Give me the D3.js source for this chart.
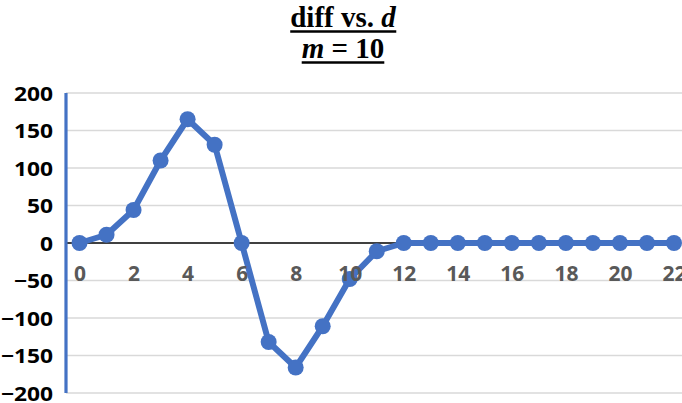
<!DOCTYPE html>
<html>
<head>
<meta charset="utf-8">
<script src="https://cdn.jsdelivr.net/npm/d3@7"></script>
<style>
  html, body { margin: 0; padding: 0; background: #fff; }
  svg { display: block; }
</style>
</head>
<body>
<svg id="chart" width="682" height="403"></svg>
<script>
const dValues = [0,1,2,3,4,5,6,7,8,9,10,11,12,13,14,15,16,17,18,19,20,21,22];
const diffValues = [0,11,44,110,165,131,0,-132,-166,-111,-48,-11,0,0,0,0,0,0,0,0,0,0,0];
const yTicks = [-200,-150,-100,-50,0,50,100,150,200];
const xTicks = [0,2,4,6,8,10,12,14,16,18,20,22];

const svg = d3.select("#chart");
const W = 682, H = 403;
const blue = "#4472C4";

const x = d3.scaleLinear().domain([-0.5, 22.5]).range([66, 687.5]);
const y = d3.scaleLinear().domain([-200, 200]).range([393, 93]);

// Title
const title = svg.append("g").attr("font-family", "'Liberation Serif', 'Times New Roman', serif")
  .attr("font-weight", "bold").attr("font-size", 29).attr("text-anchor", "middle");
const t1 = title.append("text").attr("x", 343).attr("y", 27);
t1.append("tspan").text("diff vs. ");
t1.append("tspan").attr("font-style", "italic").text("d");
const t2 = title.append("text").attr("x", 343).attr("y", 58);
t2.append("tspan").attr("font-style", "italic").text("m");
t2.append("tspan").text(" = 10");
// underlines
[t1, t2].forEach((t, i) => {
  const bb = t.node().getBBox();
  title.append("line")
    .attr("x1", bb.x).attr("x2", bb.x + bb.width)
    .attr("y1", [31.5, 62.5][i]).attr("y2", [31.5, 62.5][i])
    .attr("stroke", "#000").attr("stroke-width", 2.6);
});

// Gridlines
svg.append("g").selectAll("line").data(yTicks.filter(v => v !== 0)).join("line")
  .attr("x1", 66).attr("x2", W)
  .attr("y1", d => y(d)).attr("y2", d => y(d))
  .attr("stroke", "#d9d9d9").attr("stroke-width", 1.3);

// Y axis labels via d3 axis
const yAxis = svg.append("g").attr("transform", "translate(66,0)")
  .call(d3.axisLeft(y).tickValues(yTicks).tickSize(0).tickPadding(14).tickFormat(d3.format("d")));
yAxis.select(".domain").remove();
yAxis.selectAll("text")
  .attr("font-family", "'Open Sans', 'Liberation Sans', sans-serif")
  .attr("font-weight", "bold").attr("font-size", 20).attr("fill", "#000")
  .attr("dy", "0.36em")
  .attr("transform", "scale(1.14,1)")
  .attr("x", (-13) / 1.14);

// zero line
svg.append("line").attr("x1", 66).attr("x2", W - 1)
  .attr("y1", y(0)).attr("y2", y(0))
  .attr("stroke", "#000").attr("stroke-width", 1.6);

// y axis line (blue)
svg.append("line").attr("x1", 66).attr("x2", 66)
  .attr("y1", y(200)).attr("y2", y(-200))
  .attr("stroke", blue).attr("stroke-width", 3.2);

// Line and markers
const line = d3.line().x((d, i) => x(dValues[i])).y(d => y(d));
svg.append("path").datum(diffValues).attr("d", line)
  .attr("fill", "none").attr("stroke", blue).attr("stroke-width", 6)
  .attr("stroke-linejoin", "round");
svg.append("g").selectAll("circle").data(diffValues).join("circle")
  .attr("cx", (d, i) => x(dValues[i])).attr("cy", d => y(d))
  .attr("r", 8).attr("fill", blue);

// X axis labels at zero line
const xAxis = svg.append("g").attr("transform", `translate(0,${y(0)})`)
  .call(d3.axisBottom(x).tickValues(xTicks).tickSize(0).tickPadding(30).tickFormat(d3.format("d")));
xAxis.select(".domain").remove();
xAxis.selectAll("text")
  .attr("font-family", "'Open Sans', 'Liberation Sans', sans-serif")
  .attr("font-weight", "bold").attr("font-size", 21).attr("fill", "#595959")
  .attr("dy", "0.36em");
</script>
</body>
</html>
